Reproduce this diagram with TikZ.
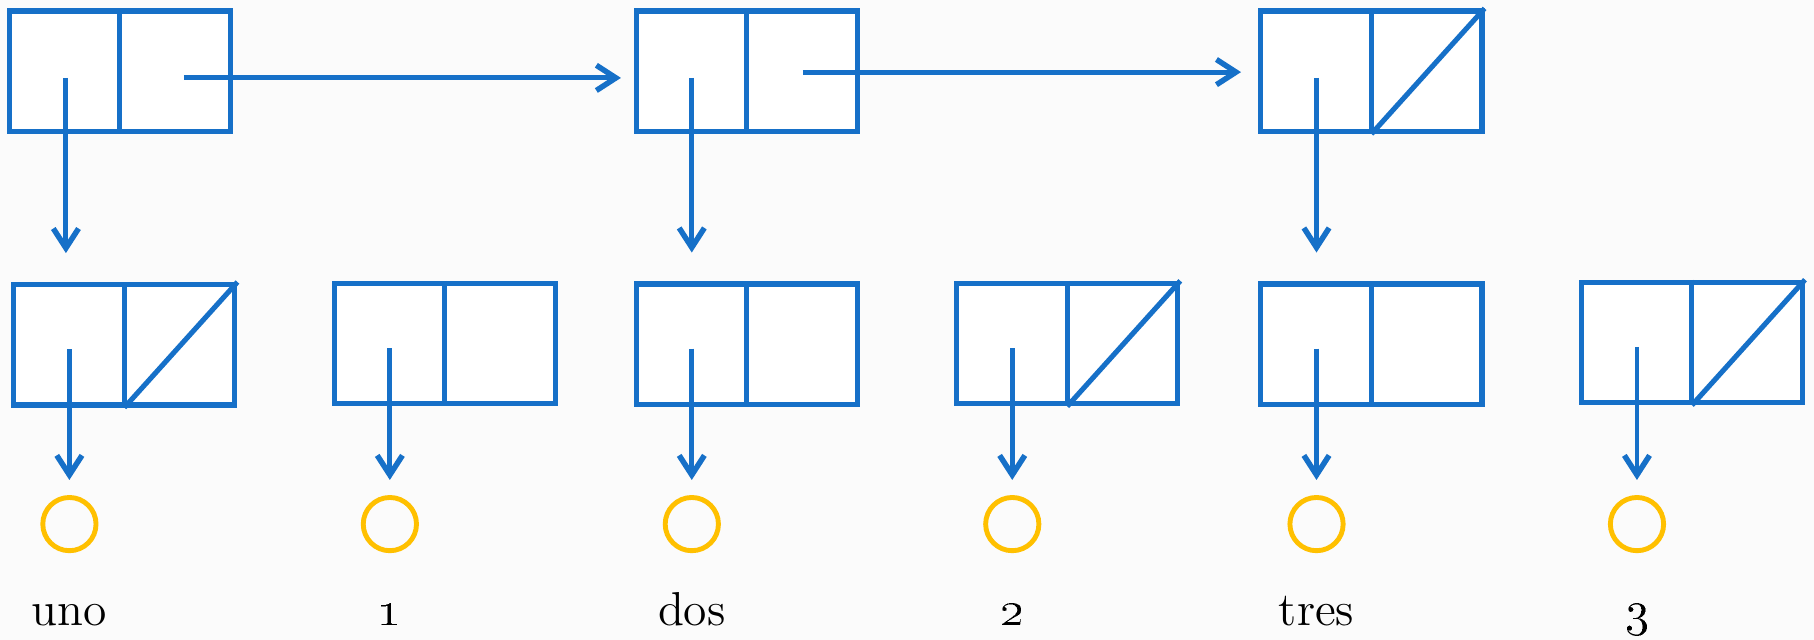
\documentclass[tikz,border=0pt]{standalone}
\usetikzlibrary{arrows.meta,calc}
\definecolor{consblue}{RGB}{22,112,200}
\definecolor{atomgold}{RGB}{255,192,0}
\definecolor{paper}{RGB}{251,251,251}
\tikzset{
  cons/.style={draw=consblue, fill=white, line width=1.25pt, inner sep=0pt,
               minimum width=1.91cm, minimum height=1.04cm, rectangle},
  part/.style={draw=consblue, line width=1.25pt},
  ptr/.style={draw=consblue, line width=1.2pt,
              -{Straight Barb[length=4.8pt,width=6.2pt,line width=1.35pt]}},
  atom/.style={draw=atomgold, line width=1.2pt, circle, inner sep=0pt,
               minimum size=0.46cm},
  lbl/.style={anchor=base, inner sep=0pt, font=\fontsize{11.7}{14}\selectfont}
}
\begin{document}
\begin{tikzpicture}[x=0.01cm,y=-0.01cm]
  % canvas
  \fill[paper] (0,0) rectangle (1568,553);
  \useasboundingbox (0,0) rectangle (1568,553);

  % spine of the list
  \node[cons] (A) at (103.5,61.5) {};
  \node[cons] (B) at (645.5,61.5) {};
  \node[cons] (C) at (1185.5,61.5) {};

  % element cells
  \node[cons] (L1) at (107.5,298) {};
  \node[cons] (L2) at (384.5,297) {};
  \node[cons] (L3) at (645.5,297.5) {};
  \node[cons] (L4) at (922.5,297) {};
  \node[cons] (L5) at (1185.5,297.5) {};
  \node[cons] (L6) at (1462.5,296) {};

  % dividers
  \foreach \n in {A,B,C,L1,L2,L3,L4,L5,L6}
    \draw[part] (\n.north) -- (\n.south);
  % empty cdr cells
  \foreach \n in {C,L1,L4,L6}
    \draw[part] (\n.south) -- (\n.north east);

  % atoms
  \node[atom] (o1) at (60,453) {};
  \node[atom] (o2) at (337,453) {};
  \node[atom] (o3) at (598,453) {};
  \node[atom] (o4) at (875,453) {};
  \node[atom] (o5) at (1138,453) {};
  \node[atom] (o6) at (1415,453) {};

  % pointer origins
  \coordinate (pA) at ([xshift=-0.465cm,yshift=-0.60cm]A.north);
  \coordinate (pB) at ([xshift=-0.475cm,yshift=-0.60cm]B.north);
  \coordinate (pC) at ([xshift=-0.475cm,yshift=-0.60cm]C.north);
  \coordinate (qA) at ([xshift=0.555cm,yshift=-0.60cm]A.north);
  \coordinate (qB) at ([xshift=0.485cm,yshift=-0.55cm]B.north);
  \foreach \i in {1,...,6}
    \coordinate (p\i) at ([xshift=-0.475cm,yshift=-0.58cm]L\i.north);

  % cdr links
  \draw[ptr, shorten >=0.11cm] (qA) -- (qA -| B.west);
  \draw[ptr, shorten >=0.15cm] (qB) -- (qB -| C.west);
  % car links of the spine
  \draw[ptr, shorten >=0.25cm] (pA) -- (pA |- L1.north);
  \draw[ptr, shorten >=0.25cm] (pB) -- (pB |- L3.north);
  \draw[ptr, shorten >=0.25cm] (pC) -- (pC |- L5.north);
  % car links to atoms
  \foreach \i in {1,...,6}
    \draw[ptr, shorten >=0.13cm] (p\i) -- (p\i |- o\i.north);

  % names of the atoms
  \node[lbl] (t1) at (60,541) {uno};
  \node[lbl] (t2) at (337,541) {\oldstylenums{1}};
  \node[lbl] (t3) at (598,541) {dos};
  \node[lbl] (t4) at (875,541) {\oldstylenums{2}};
  \node[lbl] (t5) at (1138,541) {tres};
  \node[lbl] (t6) at (1415,541) {\oldstylenums{3}};
\end{tikzpicture}
\end{document}
